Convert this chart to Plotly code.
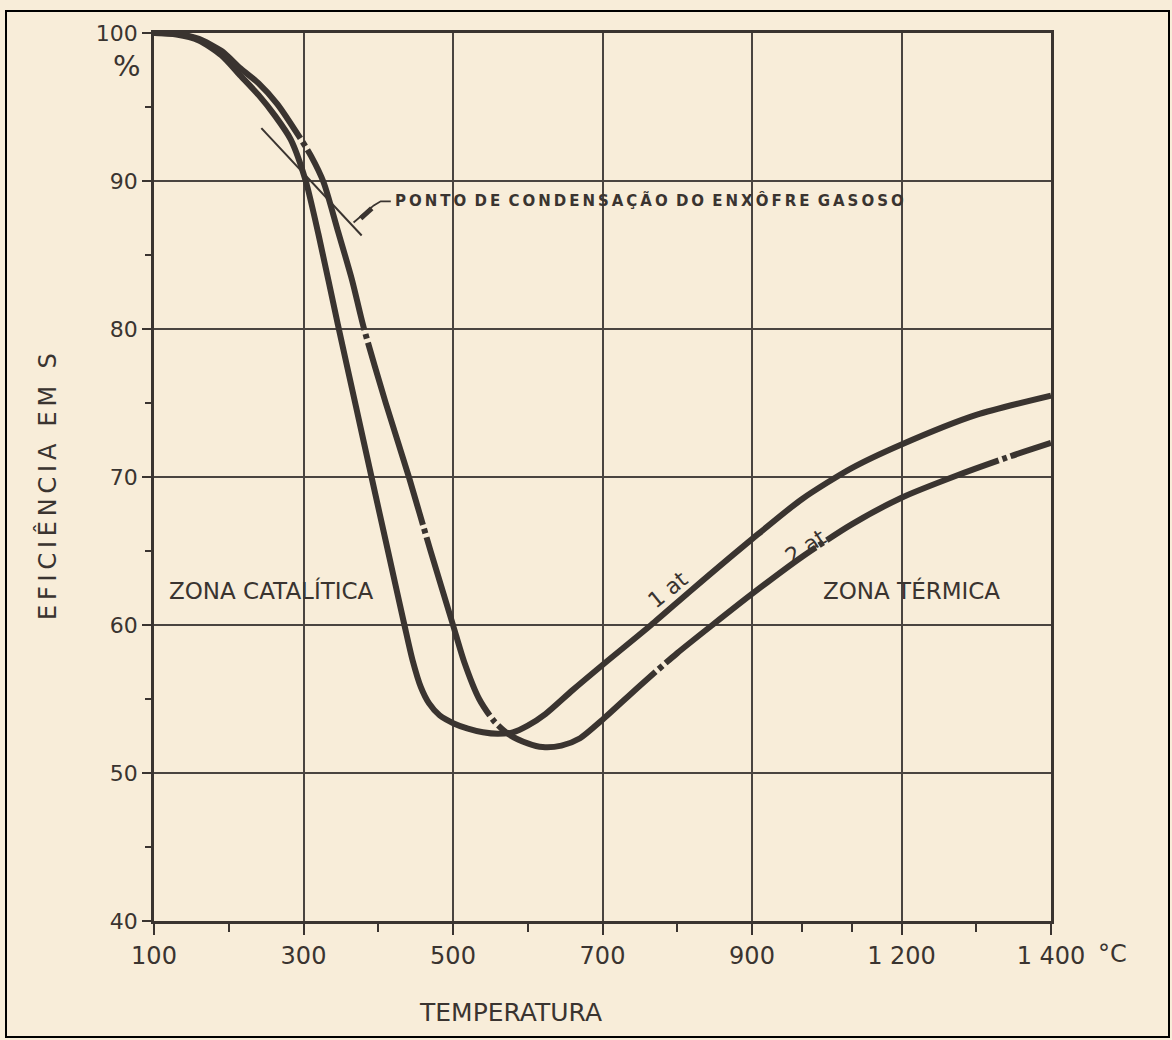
import numpy as np
import plotly.graph_objects as go

# ---- axis definitions (the original x scale is non-uniform) ----
tick_temps = [100, 300, 500, 700, 900, 1200, 1400]
tick_labels = ["100", "300", "500", "700", "900", "1 200", "1 400"]
minor_temps = [200, 400, 600, 800, 1000, 1100, 1300]
y_major = [40, 50, 60, 70, 80, 90, 100]
y_minor = [45, 55, 65, 75, 85, 95]

# ---- curve "1 at" ----
temp_1at = [100, 130, 160, 190, 216, 240, 262, 283, 303, 320, 346, 370, 391, 413, 435,
            446, 457, 468, 482, 501, 520, 540, 560, 580, 600, 624, 660, 700, 765, 820,
            900, 1000, 1100, 1200, 1300, 1400]
eff_1at = [100, 99.9, 99.5, 98.5, 97.1, 95.8, 94.4, 92.8, 90.0, 86.4, 80.3, 74.8, 70.0, 65.0, 60.0,
           57.6, 55.8, 54.7, 53.9, 53.35, 53.0, 52.75, 52.65, 52.75, 53.2, 54.0, 55.6, 57.3, 60.0, 62.4,
           65.8, 68.5, 70.6, 72.2, 74.2, 75.5]

# ---- curve "2 at" ----
temp_2at = [100, 130, 160, 190, 216, 240, 265, 293, 310, 327, 345, 365, 380, 410, 441,
            470, 500, 515, 535, 555, 575, 600, 620, 645, 670, 700, 750, 800, 847, 900,
            1000, 1100, 1200, 1274, 1340, 1400]
eff_2at = [100, 99.95, 99.6, 98.8, 97.6, 96.6, 95.2, 93.1, 91.7, 89.9, 86.8, 83.3, 80.2, 75.0, 70.0,
           65.0, 60.0, 57.5, 55.0, 53.5, 52.6, 52.0, 51.75, 51.85, 52.35, 53.6, 55.9, 58.1, 60.0, 62.1,
           64.6, 66.8, 68.6, 70.1, 71.3, 72.3]

# ---- condensation point line and its leader ----
cond_temp = [243.6, 377.8]
cond_eff = [93.57, 86.32]
leader_temp = [416.8, 403.3, 394.0, 367.0]
leader_eff = [88.63, 88.63, 88.35, 87.2]
blob_temp = [391.3, 376.5]
blob_eff = [88.15, 87.47]

INK = "#3a3430"
GRID = "#4a4440"
PAPER = "#f8edd9"
FONT = "DejaVu Sans"

idx = list(range(len(tick_temps)))


def pos(t):
    return np.interp(np.asarray(t, dtype=float), tick_temps, idx)


fig = go.Figure()

fig.add_trace(go.Scatter(x=pos(temp_1at), y=eff_1at, mode="lines",
                         line=dict(color=INK, width=6, shape="spline", smoothing=0.7),
                         hoverinfo="skip", showlegend=False))
fig.add_trace(go.Scatter(x=pos(temp_2at), y=eff_2at, mode="lines",
                         line=dict(color=INK, width=6, shape="spline", smoothing=0.7,
                                   dash="190px,4px,5px,4px"),
                         hoverinfo="skip", showlegend=False))
fig.add_trace(go.Scatter(x=pos(cond_temp), y=cond_eff, mode="lines",
                         line=dict(color=INK, width=2), hoverinfo="skip", showlegend=False))
fig.add_trace(go.Scatter(x=pos(leader_temp), y=leader_eff, mode="lines",
                         line=dict(color=INK, width=1.8), hoverinfo="skip", showlegend=False))
fig.add_trace(go.Scatter(x=pos(blob_temp), y=blob_eff, mode="lines",
                         line=dict(color=INK, width=5), hoverinfo="skip", showlegend=False))


# ---- text labels ----
def ann(text, t, e, size, angle=0, xanchor="center", bold=False):
    fig.add_annotation(x=float(pos(t)), y=e, xref="x", yref="y", text=text,
                       showarrow=False, textangle=angle, xanchor=xanchor, yanchor="middle",
                       font=dict(family=FONT, size=size, color=INK,
                                 weight="bold" if bold else "normal"))


ts = "\u2009"
ponto = "PONTO DE CONDENSAÇÃO DO ENXÔFRE GASOSO"
ponto_sp = (" " + ts).join(ts.join(w) for w in ponto.split(" "))
ann(ponto_sp, 419.7, 88.65, 15, xanchor="left", bold=True)
ann("ZONA CATALÍTICA", 256.6, 62.36, 23)
ann("ZONA TÉRMICA", 1214, 62.3, 23)
ann("1 at", 787.6, 62.4, 22, angle=-39)
ann("2 at", 1008, 65.3, 22, angle=-33)

W, H = 1172, 1040
ML, MR, MT, MB = 154, 121, 33, 119
PW, PH = W - ML - MR, H - MT - MB


def px(xp, yp):
    return (xp - ML) / PW, (H - MB - yp) / PH


def paper_ann(text, xp, yp, size, angle=0):
    x, y = px(xp, yp)
    fig.add_annotation(x=x, y=y, xref="paper", yref="paper", text=text,
                       showarrow=False, textangle=angle,
                       xanchor="center", yanchor="middle",
                       font=dict(family=FONT, size=size, color=INK))


paper_ann("%", 127, 66, 29)
paper_ann("°C", 1112, 954, 24)
paper_ann("TEMPERATURA", 510, 1012, 25)
gap = ts + " " + ts
paper_ann(gap.join(ts.join(w) for w in ["EFICIÊNCIA", "EM", "S"]), 47, 487, 24, angle=-90)

fx0, fy0 = px(6, 1037)
fx1, fy1 = px(1169, 11)
fig.add_shape(type="rect", xref="paper", yref="paper", x0=fx0, y0=fy0, x1=fx1, y1=fy1,
              line=dict(color="#000000", width=2), fillcolor="rgba(0,0,0,0)", layer="above")

fig.update_layout(
    width=W, height=H,
    margin=dict(l=ML, r=MR, t=MT, b=MB, pad=0),
    paper_bgcolor=PAPER, plot_bgcolor=PAPER,
    showlegend=False,
    font=dict(family=FONT, color=INK),
)
fig.update_xaxes(
    range=[0, len(tick_temps) - 1],
    tickvals=idx, ticktext=tick_labels,
    ticks="outside", ticklen=11, tickwidth=2.2, tickcolor=INK,
    tickfont=dict(family=FONT, size=24, color=INK),
    showgrid=True, gridcolor=GRID, gridwidth=1.8,
    showline=True, mirror=True, linecolor=INK, linewidth=2.6,
    zeroline=False,
    minor=dict(tickvals=[float(v) for v in pos(minor_temps)], ticks="outside",
               ticklen=8, tickwidth=2, tickcolor=INK, showgrid=False),
)
fig.update_yaxes(
    range=[40, 100],
    tickvals=y_major, ticktext=[str(v) for v in y_major],
    ticks="outside", ticklen=9, tickwidth=2.2, tickcolor=INK,
    tickfont=dict(family=FONT, size=22, color=INK),
    showgrid=True, gridcolor=GRID, gridwidth=1.8,
    showline=True, mirror=True, linecolor=INK, linewidth=2.6,
    zeroline=False,
    minor=dict(tickvals=y_minor, ticks="outside", ticklen=6, tickwidth=2,
               tickcolor=INK, showgrid=False),
)

fig.write_html("out.html", config={"displayModeBar": False},
               post_script="document.body.style.margin='0px';")
